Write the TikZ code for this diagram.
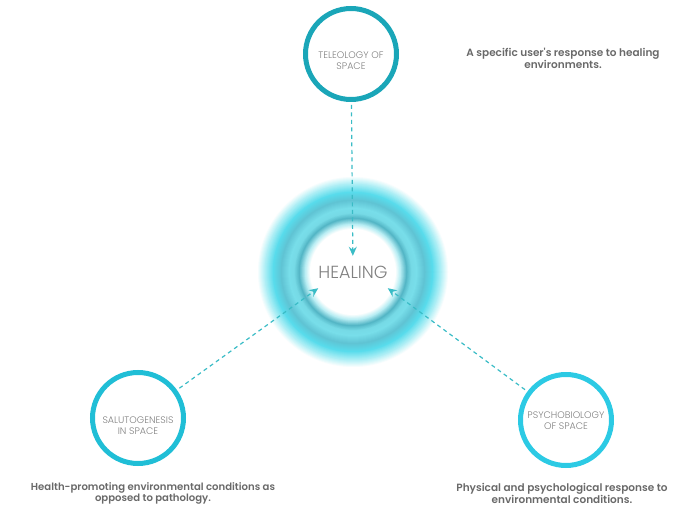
\documentclass[tikz,border=0pt]{standalone}
\usepackage{fontspec}
\setmainfont{Poppins}
\newfontfamily\capfont{Poppins SemiBold}
\newfontfamily\lightfont{Poppins Light}
\usetikzlibrary{arrows.meta,calc}
\definecolor{tealA}{RGB}{26,166,184}
\definecolor{tealB}{RGB}{32,190,214}
\definecolor{tealC}{RGB}{44,202,228}
\definecolor{dashcol}{RGB}{58,188,198}
\definecolor{txtgray}{RGB}{128,128,128}
\definecolor{capgray}{RGB}{105,105,105}
\definecolor{glowa}{RGB}{185,238,244}
\definecolor{glowb}{RGB}{84,182,198}
\definecolor{glowc}{RGB}{118,218,230}
\definecolor{glowd}{RGB}{120,222,234}
\definecolor{glowe}{RGB}{96,196,212}
\definecolor{glowf}{RGB}{88,220,236}
\definecolor{glowg}{RGB}{170,238,245}
\tikzset{>={Stealth[length=9pt,width=8pt,inset=3pt]}}
\tikzset{
  ring/.style={circle,line width=5pt,minimum size=91pt,inner sep=0pt},
  circtext/.style={align=center,text=txtgray,font=\lightfont\fontsize{9.5}{11}\selectfont},
  caption/.style={align=center,text=capgray,font=\capfont\fontsize{10.5}{11}\selectfont},
  link/.style={->,dashed,dash pattern=on 4pt off 3.5pt,line width=1.2pt,draw=dashcol,shorten <=3pt}
}

\begin{document}
\begin{tikzpicture}[x=1pt,y=1pt]
  \useasboundingbox (0,0) rectangle (680,509);
  \coordinate (hc) at (353,237);
  \foreach \ra/\rb/\ca/\cb in {96/88/white/glowg,88/80/glowg/glowf,80/72/glowf/glowe,72/64/glowe/glowd,
      64/59/glowd/glowc,59/54/glowc/glowb,54/48/glowb/glowa,48/43/glowa/white}{
    \foreach \t in {0,1,...,8}{
      \pgfmathsetmacro{\rr}{\ra+(\rb-\ra)*\t/8}
      \pgfmathtruncatemacro{\pp}{100*\t/8}
      \fill[\cb!\pp!\ca] (hc) circle (\rr);
    }
  }
  \node[minimum width=68pt,minimum height=32pt,inner sep=0pt,text=txtgray,font=\lightfont\fontsize{17.5}{18}\selectfont] (heal) at (hc) {HEALING};
  \node[ring,draw=tealA] (teleo) at (351,455) {};
  \node[ring,draw=tealB] (saluto) at (138,91) {};
  \node[ring,draw=tealC] (psycho) at (566,89) {};
  \node[circtext] (teleotxt) at ($(teleo)+(0,-7)$) {TELEOLOGY OF\\SPACE};
  \node[circtext] (salutotxt) at ($(saluto)+(0,-8)$) {SALUTOGENESIS\\IN SPACE};
  \node[circtext] (psychotxt) at ($(psycho)+(0,-1)$) {PSYCHOBIOLOGY\\OF SPACE};
  \draw[link] (teleo) -- (heal);
  \draw[link] (saluto) -- (heal.south west);
  \draw[link] (psycho) -- (heal.south east);
  \node[caption] (cap1) at (563,451) {A specific user's response to healing\\environments.};
  \node[caption,font=\capfont\fontsize{10.1}{11}\selectfont] (cap2) at (153,16) {Health-promoting environmental conditions as\\opposed to pathology.};
  \node[caption] (cap3) at (562,16) {Physical and psychological response to\\environmental conditions.};
\end{tikzpicture}
\end{document}
